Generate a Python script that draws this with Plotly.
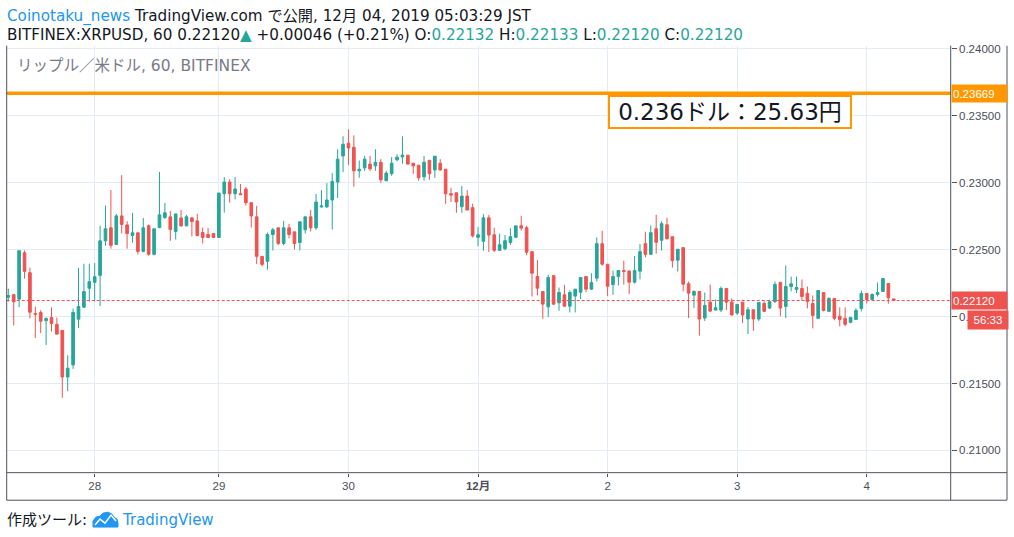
import plotly.graph_objects as go

# XRPUSD 1h candles, BITFINEX (27 Nov 08:00 -> 4 Dec 05:00 JST)
opens = [0.22145, 0.22164, 0.22130, 0.22477, 0.22328, 0.22023, 0.22031, 0.21969, 0.21993, 0.21941,
         0.21897, 0.21549, 0.21639, 0.21981, 0.22070, 0.22212, 0.22256, 0.22308, 0.22566, 0.22663,
         0.22539, 0.22752, 0.22685, 0.22606, 0.22626, 0.22487, 0.22678, 0.22465, 0.22665, 0.22740,
         0.22745, 0.22636, 0.22737, 0.22678, 0.22737, 0.22715, 0.22628, 0.22613, 0.22621, 0.22591,
         0.22918, 0.23005, 0.22918, 0.22918, 0.22953, 0.22851, 0.22745, 0.22450, 0.22413, 0.22613,
         0.22663, 0.22546, 0.22663, 0.22633, 0.22554, 0.22648, 0.22745, 0.22663, 0.22819, 0.22819,
         0.22871, 0.23005, 0.23200, 0.23295, 0.23265, 0.23089, 0.23111, 0.23139, 0.23126, 0.23153,
         0.23015, 0.23067, 0.23171, 0.23193, 0.23206, 0.23146, 0.23131, 0.23044, 0.23168, 0.23096,
         0.23146, 0.23101, 0.22918, 0.22925, 0.22821, 0.22900, 0.22814, 0.22592, 0.22562, 0.22738,
         0.22611, 0.22495, 0.22507, 0.22554, 0.22592, 0.22678, 0.22664, 0.22485, 0.22299, 0.22187,
         0.22073, 0.22306, 0.22103, 0.22163, 0.22078, 0.22153, 0.22182, 0.22299, 0.22205, 0.22287,
         0.22545, 0.22391, 0.22239, 0.22299, 0.22344, 0.22341, 0.22257, 0.22339, 0.22545, 0.22465,
         0.22656, 0.22570, 0.22686, 0.22597, 0.22421, 0.22515, 0.22245, 0.22160, 0.22188, 0.21989,
         0.22108, 0.22049, 0.22049, 0.22210, 0.22108, 0.22026, 0.22108, 0.21982, 0.22051, 0.21982,
         0.22098, 0.22064, 0.22113, 0.22255, 0.22076, 0.22225, 0.22203, 0.22210, 0.22173, 0.22098,
         0.21987, 0.22180, 0.22039, 0.22136, 0.22002, 0.21987, 0.21957, 0.21979, 0.22061, 0.22173,
         0.22128, 0.22165, 0.22188, 0.22247, 0.22132]
highs = [0.22209, 0.22166, 0.22492, 0.22494, 0.22365, 0.22073, 0.22048, 0.21993, 0.22068, 0.21993,
         0.21897, 0.21711, 0.22060, 0.22365, 0.22395, 0.22395, 0.22400, 0.22678, 0.22829, 0.22946,
         0.22767, 0.23057, 0.22713, 0.22775, 0.22626, 0.22737, 0.22688, 0.22656, 0.23080, 0.22849,
         0.22789, 0.22767, 0.22797, 0.22760, 0.22745, 0.22767, 0.22665, 0.22663, 0.22621, 0.22923,
         0.23042, 0.23025, 0.23042, 0.22990, 0.22968, 0.22851, 0.22827, 0.22450, 0.22628, 0.22663,
         0.22663, 0.22715, 0.22693, 0.22633, 0.22708, 0.22745, 0.22797, 0.22916, 0.22945, 0.22997,
         0.23072, 0.23250, 0.23347, 0.23399, 0.23354, 0.23166, 0.23200, 0.23200, 0.23250, 0.23176,
         0.23089, 0.23191, 0.23213, 0.23347, 0.23206, 0.23146, 0.23131, 0.23200, 0.23168, 0.23198,
         0.23176, 0.23101, 0.22962, 0.22925, 0.22975, 0.22945, 0.22843, 0.22669, 0.22765, 0.22758,
         0.22664, 0.22619, 0.22609, 0.22659, 0.22678, 0.22753, 0.22678, 0.22485, 0.22423, 0.22187,
         0.22314, 0.22306, 0.22217, 0.22237, 0.22197, 0.22205, 0.22292, 0.22299, 0.22324, 0.22592,
         0.22641, 0.22391, 0.22344, 0.22344, 0.22418, 0.22341, 0.22453, 0.22542, 0.22634, 0.22681,
         0.22760, 0.22711, 0.22738, 0.22597, 0.22503, 0.22515, 0.22262, 0.22195, 0.22188, 0.22180,
         0.22240, 0.22128, 0.22225, 0.22210, 0.22136, 0.22091, 0.22108, 0.22071, 0.22051, 0.22106,
         0.22113, 0.22126, 0.22262, 0.22260, 0.22381, 0.22299, 0.22299, 0.22277, 0.22225, 0.22158,
         0.22195, 0.22180, 0.22143, 0.22136, 0.22069, 0.22069, 0.21994, 0.22061, 0.22195, 0.22173,
         0.22173, 0.22255, 0.22284, 0.22247, 0.22133]
lows = [0.22112, 0.21934, 0.22070, 0.22284, 0.21986, 0.21840, 0.21877, 0.21788, 0.21889, 0.21869,
        0.21393, 0.21443, 0.21609, 0.21914, 0.22065, 0.22112, 0.22112, 0.22078, 0.22529, 0.22507,
        0.22535, 0.22621, 0.22507, 0.22551, 0.22465, 0.22480, 0.22455, 0.22457, 0.22660, 0.22730,
        0.22566, 0.22576, 0.22670, 0.22675, 0.22599, 0.22599, 0.22546, 0.22588, 0.22588, 0.22588,
        0.22777, 0.22851, 0.22876, 0.22908, 0.22829, 0.22665, 0.22393, 0.22375, 0.22350, 0.22494,
        0.22534, 0.22532, 0.22584, 0.22502, 0.22494, 0.22621, 0.22636, 0.22648, 0.22815, 0.22814,
        0.22650, 0.22886, 0.23079, 0.23134, 0.22970, 0.23037, 0.23089, 0.23089, 0.23089, 0.23000,
        0.23012, 0.23052, 0.23161, 0.23141, 0.23136, 0.23067, 0.23015, 0.23015, 0.23022, 0.23037,
        0.23089, 0.22843, 0.22856, 0.22776, 0.22776, 0.22796, 0.22590, 0.22525, 0.22492, 0.22482,
        0.22482, 0.22490, 0.22495, 0.22535, 0.22590, 0.22641, 0.22458, 0.22150, 0.22158, 0.21984,
        0.21996, 0.22086, 0.22044, 0.22073, 0.22031, 0.22031, 0.22130, 0.22182, 0.22200, 0.22262,
        0.22381, 0.22153, 0.22163, 0.22232, 0.22239, 0.22168, 0.22247, 0.22279, 0.22443, 0.22463,
        0.22470, 0.22493, 0.22575, 0.22366, 0.22336, 0.22190, 0.21989, 0.22064, 0.21858, 0.21967,
        0.22034, 0.22046, 0.22034, 0.22049, 0.22010, 0.22012, 0.21952, 0.21870, 0.21893, 0.21967,
        0.22036, 0.22056, 0.22101, 0.22002, 0.21989, 0.22188, 0.22175, 0.22121, 0.22061, 0.21912,
        0.21987, 0.22039, 0.22039, 0.21972, 0.21927, 0.21927, 0.21950, 0.21977, 0.22039, 0.22098,
        0.22121, 0.22150, 0.22185, 0.22096, 0.22120]
closes = [0.22157, 0.22110, 0.22492, 0.22338, 0.22033, 0.22018, 0.21966, 0.21986, 0.21949, 0.21869,
          0.21549, 0.21614, 0.22031, 0.22075, 0.22187, 0.22261, 0.22298, 0.22566, 0.22656, 0.22532,
          0.22752, 0.22688, 0.22621, 0.22626, 0.22487, 0.22663, 0.22465, 0.22656, 0.22760, 0.22775,
          0.22651, 0.22767, 0.22678, 0.22745, 0.22710, 0.22606, 0.22591, 0.22591, 0.22591, 0.22923,
          0.23005, 0.22918, 0.22953, 0.22911, 0.22851, 0.22752, 0.22450, 0.22390, 0.22613, 0.22648,
          0.22546, 0.22663, 0.22613, 0.22546, 0.22708, 0.22745, 0.22663, 0.22856, 0.22826, 0.22871,
          0.23010, 0.23176, 0.23287, 0.23260, 0.23089, 0.23101, 0.23176, 0.23104, 0.23153, 0.23022,
          0.23072, 0.23146, 0.23191, 0.23206, 0.23139, 0.23126, 0.23037, 0.23153, 0.23067, 0.23198,
          0.23096, 0.22918, 0.22908, 0.22856, 0.22900, 0.22796, 0.22603, 0.22611, 0.22738, 0.22609,
          0.22495, 0.22537, 0.22567, 0.22597, 0.22678, 0.22661, 0.22480, 0.22324, 0.22212, 0.22093,
          0.22292, 0.22093, 0.22180, 0.22078, 0.22180, 0.22205, 0.22292, 0.22205, 0.22254, 0.22545,
          0.22391, 0.22227, 0.22299, 0.22344, 0.22336, 0.22257, 0.22344, 0.22485, 0.22465, 0.22627,
          0.22555, 0.22694, 0.22582, 0.22418, 0.22503, 0.22242, 0.22175, 0.22188, 0.21982, 0.22083,
          0.22041, 0.22066, 0.22210, 0.22108, 0.22012, 0.22091, 0.22012, 0.22051, 0.21982, 0.22106,
          0.22039, 0.22111, 0.22240, 0.22064, 0.22225, 0.22245, 0.22217, 0.22150, 0.22113, 0.22009,
          0.22195, 0.22046, 0.22136, 0.21987, 0.21979, 0.21942, 0.21994, 0.22046, 0.22173, 0.22128,
          0.22165, 0.22180, 0.22284, 0.22140, 0.22120]

day_ticks = [16, 39, 63, 87, 111, 135, 159]
day_labels = ["28", "29", "30", "<b>12月</b>", "2", "3", "4"]
price_ticks = [0.21, 0.215, 0.22, 0.225, 0.23, 0.235, 0.24]

alert_price = 0.23669
last_price = 0.22120
countdown = "56:33"
note_text = "0.236ドル：25.63円"

UP = "#26A69A"
DOWN = "#EF5350"
ORANGE = "#FF9800"
BORDER = "#50535E"
GRID = "#E3ECF2"
TEXT = "#131722"
AXIS_TXT = "#4A4E59"
W, H = 1014, 537
FONT = "DejaVu Sans, Noto Sans CJK JP, sans-serif"
AXFONT = "Liberation Sans, Noto Sans CJK JP, sans-serif"


def px(x):
    return x / W


def py(y):
    return 1 - y / H


xs = list(range(len(opens)))

fig = go.Figure()
fig.add_trace(go.Candlestick(
    x=xs, open=opens, high=highs, low=lows, close=closes,
    increasing=dict(line=dict(color=UP, width=1), fillcolor=UP),
    decreasing=dict(line=dict(color=DOWN, width=1), fillcolor=DOWN),
    whiskerwidth=0, showlegend=False, hoverinfo="skip",
))

shapes = [
    # alert line + last price line
    dict(type="line", xref="x domain", yref="y", x0=0, x1=1, y0=alert_price, y1=alert_price,
         line=dict(color=ORANGE, width=3.5)),
    dict(type="line", xref="x domain", yref="y", x0=0, x1=1, y0=last_price, y1=last_price,
         line=dict(color=DOWN, width=1, dash="3px,2px")),
]
# panel frame
for x0, y0, x1, y1 in [(6.7, 43, 6.7, 500), (6.7, 472.3, 1007, 472.3), (6.7, 500, 1007, 500),
                       (950.7, 43, 950.7, 500), (1007, 43, 1007, 500)]:
    shapes.append(dict(type="line", xref="paper", yref="paper",
                       x0=px(x0), y0=py(y0), x1=px(x1), y1=py(y1),
                       line=dict(color=BORDER, width=1)))

# little TradingView logo
cloud = [(93, 527), (93, 521), (96, 517), (100, 516), (103, 513), (108, 512), (112, 514),
         (114, 517), (117, 519), (118, 523), (118, 527)]
zig = [(95, 525), (100, 519), (105, 523), (111, 515), (116, 521)]
path = "M" + " L".join(f"{px(a):.5f},{py(b):.5f}" for a, b in cloud) + " Z"
shapes.append(dict(type="path", xref="paper", yref="paper", path=path,
                   fillcolor="#2196F3", line=dict(color="#2196F3", width=1)))
path2 = "M" + " L".join(f"{px(a):.5f},{py(b):.5f}" for a, b in zig)
shapes.append(dict(type="path", xref="paper", yref="paper", path=path2,
                   line=dict(color="white", width=1.5)))

teal = lambda s: f"<span style='color:{UP}'>{s}</span>"
line2 = ("BITFINEX:XRPUSD, 60 0.22120" + teal("▲") + " +0.00046 (+0.21%) O:" + teal("0.22132")
         + " H:" + teal("0.22133") + " L:" + teal("0.22120") + " C:" + teal("0.22120"))

annotations = [
    dict(text="<span style='color:#2196F3'>Coinotaku_news</span> TradingView.com で公開, 12月 04, 2019 05:03:29 JST",
         x=px(5), y=py(14), xanchor="left", yanchor="middle", font=dict(size=15.2, color=TEXT)),
    dict(text=line2, x=px(5), y=py(32), xanchor="left", yanchor="middle",
         font=dict(size=15.2, color=TEXT)),
    dict(text="リップル／米ドル, 60, BITFINEX", x=px(15), y=py(63), xanchor="left", yanchor="middle",
         font=dict(size=15.5, color="#787B86")),
    dict(text=note_text, x=px(608), y=py(93), xanchor="left", yanchor="top",
         font=dict(size=23, color=TEXT), bgcolor="white", bordercolor=ORANGE,
         borderwidth=2, borderpad=1, width=238, height=28),
    dict(text=f"{alert_price:.5f}", x=px(951), y=alert_price, yref="y", xanchor="left",
         yanchor="middle", bgcolor=ORANGE, font=dict(family=AXFONT, size=11.5, color="white"),
         width=53, height=15, align="left", borderpad=1),
    dict(text=f"{last_price:.5f}", x=px(951), y=last_price, yref="y", xanchor="left",
         yanchor="middle", bgcolor=DOWN, font=dict(family=AXFONT, size=11.5, color="white"),
         width=53, height=15, align="left", borderpad=1),
    dict(text=countdown, x=px(967), y=py(319), xanchor="left", yanchor="middle",
         bgcolor=DOWN, font=dict(family=AXFONT, size=11.5, color="white"), width=38, height=16,
         borderpad=1),
    dict(text="作成ツール:", x=px(5), y=py(520), xanchor="left", yanchor="middle",
         font=dict(size=15, color=TEXT)),
    dict(text="TradingView", x=px(120), y=py(520), xanchor="left", yanchor="middle",
         font=dict(size=15, color="#2196F3")),
]
for a in annotations:
    a.setdefault("xref", "paper")
    a.setdefault("yref", "paper")
    a["showarrow"] = False

fig.update_layout(
    width=W, height=H, margin=dict(l=0, r=0, t=0, b=0),
    paper_bgcolor="white", plot_bgcolor="white",
    font=dict(family=FONT, color=AXIS_TXT),
    shapes=shapes, annotations=annotations,
    xaxis=dict(domain=[px(6.7), px(950.7)], range=[-0.3, 174.55], rangeslider=dict(visible=False),
               tickvals=day_ticks, ticktext=day_labels, showgrid=True, gridcolor=GRID,
               ticks="outside", ticklen=3, tickcolor=BORDER,
               tickfont=dict(family=AXFONT, size=11.5, color=AXIS_TXT),
               showline=False, zeroline=False, fixedrange=True),
    yaxis=dict(domain=[py(472.3), py(43.3)], range=[0.20834, 0.24021], side="right",
               tickvals=price_ticks, tickformat=".5f", showgrid=True, gridcolor=GRID,
               ticks="outside", ticklen=5, tickcolor=BORDER,
               tickfont=dict(family=AXFONT, size=11.5, color=AXIS_TXT),
               showline=False, zeroline=False, fixedrange=True),
)

post = ("document.documentElement.style.overflow='hidden';"
        "document.body.style.margin='0';document.body.style.overflow='hidden';"
        "var gd=document.getElementById('{plot_id}');"
        "gd.parentElement.style.height='537px';gd.parentElement.style.overflow='hidden';")
fig.write_html("out.html", config={"displayModeBar": False}, post_script=post)
